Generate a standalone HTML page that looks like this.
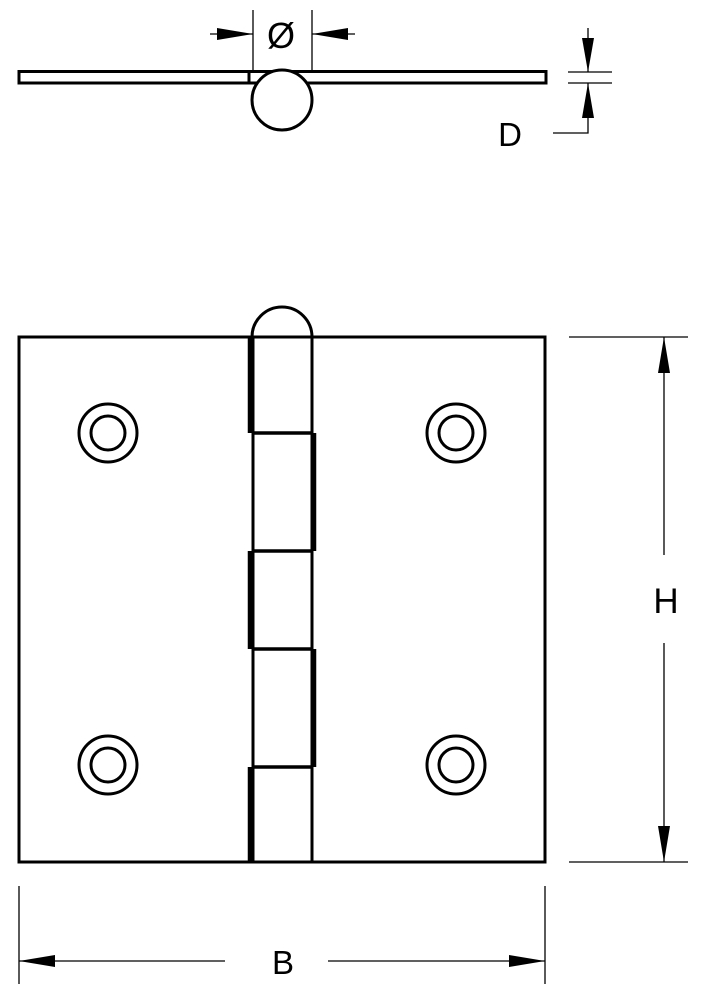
<!DOCTYPE html>
<html><head><meta charset="utf-8"><style>
html,body{margin:0;padding:0;background:#fff;}
svg{display:block}
text{font-family:"Liberation Sans",sans-serif;fill:#000}
</style></head><body>
<svg width="715" height="995" viewBox="0 0 715 995" xmlns="http://www.w3.org/2000/svg">
<g fill="none" stroke="#000" stroke-width="3">
  <rect x="19" y="71.5" width="527" height="11.5"/>
  <line x1="249" y1="71" x2="249" y2="83"/>
  <circle cx="282" cy="100" r="30" fill="#fff"/>
  <rect x="19" y="337" width="526" height="525"/>
  <path d="M252 337 A30 30 0 0 1 312 337" />
  <line x1="253" y1="337" x2="253" y2="862"/>
  <line x1="312" y1="337" x2="312" y2="862"/>
  <line x1="252" y1="433" x2="313" y2="433" stroke-width="3.5"/>
  <line x1="252" y1="551" x2="313" y2="551" stroke-width="3.5"/>
  <line x1="252" y1="649" x2="313" y2="649" stroke-width="3.5"/>
  <line x1="252" y1="767" x2="313" y2="767" stroke-width="3.5"/>
  <circle cx="108" cy="433" r="29"/><circle cx="108" cy="433" r="17"/>
  <circle cx="456" cy="433" r="29"/><circle cx="456" cy="433" r="17"/>
  <circle cx="108" cy="765" r="29"/><circle cx="108" cy="765" r="17"/>
  <circle cx="456" cy="765" r="29"/><circle cx="456" cy="765" r="17"/>
</g>
<g stroke="#000" stroke-width="4.5">
  <line x1="250" y1="337" x2="250" y2="433"/>
  <line x1="314" y1="433" x2="314" y2="551"/>
  <line x1="250" y1="551" x2="250" y2="649"/>
  <line x1="314" y1="649" x2="314" y2="767"/>
  <line x1="250" y1="767" x2="250" y2="862"/>
</g>
<g stroke="#000" stroke-width="1.3" fill="none">
  <line x1="253" y1="10" x2="253" y2="71"/>
  <line x1="312" y1="10" x2="312" y2="71"/>
  <line x1="210" y1="34" x2="253" y2="34"/>
  <line x1="312" y1="34" x2="355" y2="34"/>
  <line x1="568" y1="72" x2="612" y2="72"/>
  <line x1="568" y1="83" x2="612" y2="83"/>
  <line x1="588" y1="28" x2="588" y2="72"/>
  <polyline points="588,83 588,133 553,133"/>
  <line x1="569" y1="337" x2="688" y2="337"/>
  <line x1="569" y1="862" x2="688" y2="862"/>
  <line x1="664" y1="337" x2="664" y2="555"/>
  <line x1="664" y1="643" x2="664" y2="862"/>
  <line x1="19" y1="886" x2="19" y2="984"/>
  <line x1="545" y1="886" x2="545" y2="984"/>
  <line x1="19" y1="961" x2="225" y2="961"/>
  <line x1="328" y1="961" x2="545" y2="961"/>
</g>
<g fill="#000">
  <polygon points="253,34 217,28 217,40"/>
  <polygon points="312,34 348,28 348,40"/>
  <polygon points="588,72 582,38 594,38"/>
  <polygon points="588,83 582,118 594,118"/>
  <polygon points="664,337 658,373 670,373"/>
  <polygon points="664,862 658,826 670,826"/>
  <polygon points="19,961 55,955 55,967"/>
  <polygon points="545,961 509,955 509,967"/>
</g>
<text x="281" y="48" font-size="36" text-anchor="middle">Ø</text>
<text x="510" y="146" font-size="33" text-anchor="middle">D</text>
<text x="666" y="613" font-size="35" text-anchor="middle">H</text>
<text x="283" y="974" font-size="33" text-anchor="middle">B</text>
</svg>
</body></html>
